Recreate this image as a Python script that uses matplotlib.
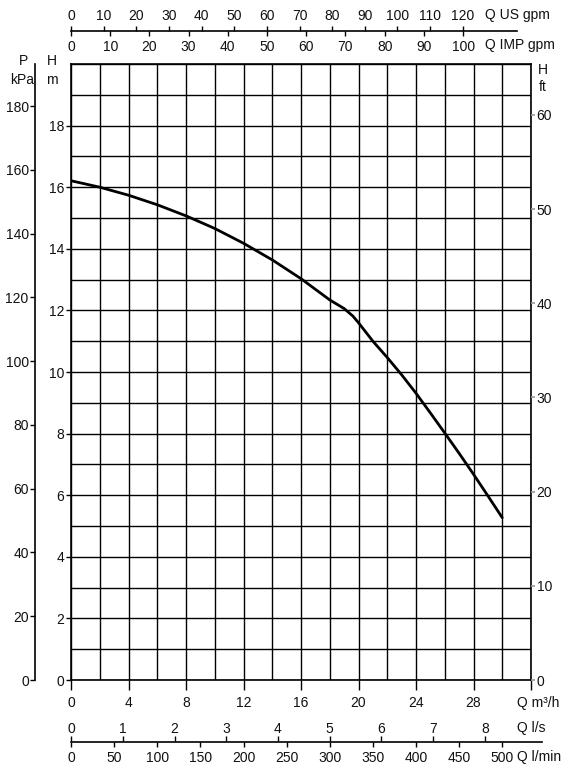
import matplotlib
matplotlib.use("Agg")
import matplotlib.pyplot as plt
from matplotlib import font_manager

_fam = ['Liberation Sans', 'DejaVu Sans']
try:
    font_manager.findfont(font_manager.FontProperties(family='Liberation Sans Narrow'),
                          fallback_to_default=False)
    _fam = ['Liberation Sans Narrow'] + _fam
    NARROW = True
except Exception:
    NARROW = False
plt.rcParams['font.family'] = _fam

# ---------------- data ----------------
q_m3h = [0, 2, 4, 6, 8, 10, 12, 14, 16, 18, 19, 19.6, 20, 21, 22, 23, 24, 25, 26, 27, 28, 29, 30]
h_m = [16.21, 16.0, 15.74, 15.43, 15.07, 14.66, 14.18, 13.64, 13.03, 12.34, 12.06, 11.82, 11.6,
       11.0, 10.47, 9.91, 9.31, 8.67, 8.02, 7.36, 6.68, 5.98, 5.27]

q_ticks = [0, 4, 8, 12, 16, 20, 24, 28]
h_ticks = [0, 2, 4, 6, 8, 10, 12, 14, 16, 18]
kpa_ticks = [0, 20, 40, 60, 80, 100, 120, 140, 160, 180]
ft_ticks = [0, 10, 20, 30, 40, 50, 60]
us_gpm_ticks = [0, 10, 20, 30, 40, 50, 60, 70, 80, 90, 100, 110, 120]
imp_gpm_ticks = [0, 10, 20, 30, 40, 50, 60, 70, 80, 90, 100]
ls_ticks = [0, 1, 2, 3, 4, 5, 6, 7, 8]
lmin_ticks = [0, 50, 100, 150, 200, 250, 300, 350, 400, 450, 500]

# unit conversions (per m3/h and per m)
US_PER_M3H = 4.4029
IMP_PER_M3H = 3.6661
LS_PER_M3H = 1 / 3.6
LMIN_PER_M3H = 1000 / 60
KPA_PER_M = 9.66
FT_PER_M = 3.27

# ---------------- layout ----------------
W, H = 566, 775
fig = plt.figure(figsize=(W / 100, H / 100), dpi=100)
TXT = '#111111'
FS = 10.5 if NARROW else 10
LFS = 10.5 if NARROW else 10

X0, X1 = 71, 531          # px of main axes
Y0, Y1 = 680, 64          # px (from top) of H=0 and H=20
QMAX, HMAX = 32, 20
PX_PER_Q = (X1 - X0) / QMAX


def fx(px):
    return px / W


def fy(py):
    return (H - py) / H


ax = fig.add_axes([fx(X0), fy(Y0), (X1 - X0) / W, (Y0 - Y1) / H])
ax.set_xlim(0, QMAX)
ax.set_ylim(0, HMAX)
ax.set_xticks(q_ticks + [32])
ax.set_xticklabels([str(t) for t in q_ticks] + [''])
ax.set_yticks(h_ticks)
ax.set_yticklabels([str(t) for t in h_ticks])
ax.set_xticks(range(0, 33, 2), minor=True)
ax.set_yticks(range(0, 21, 1), minor=True)
ax.grid(which='both', color='black', lw=1.0)
ax.tick_params(axis='x', which='major', direction='out', length=7.5, width=1.0,
               pad=4, labelsize=FS, labelcolor=TXT)
ax.tick_params(axis='y', which='major', direction='out', length=3.8, width=1.0,
               pad=1, labelsize=FS, labelcolor=TXT)
ax.tick_params(which='minor', length=0)
for s in ax.spines.values():
    s.set_linewidth(1.2)
ax.plot(q_m3h, h_m, color='black', lw=2.0, solid_capstyle='round',
        solid_joinstyle='round', zorder=5)

# right ft axis
axr = ax.twinx()
axr.set_ylim(0, HMAX * FT_PER_M)
axr.set_yticks(ft_ticks)
axr.set_yticklabels([str(t) for t in ft_ticks])
axr.tick_params(axis='y', direction='out', length=3, width=1.2, color='#999999',
                pad=1, labelsize=FS, labelcolor=TXT)
for k in ('right', 'left', 'top', 'bottom'):
    axr.spines[k].set_visible(False)

# left kPa axis
axk = fig.add_axes([fx(35), fy(Y0), 0.0005, (Y0 - Y1) / H])
axk.set_ylim(0, HMAX * KPA_PER_M)
axk.set_yticks(kpa_ticks)
axk.set_yticklabels([str(t) for t in kpa_ticks])
axk.set_xticks([])
axk.patch.set_visible(False)
for k in ('right', 'top', 'bottom'):
    axk.spines[k].set_visible(False)
axk.spines['left'].set_linewidth(1.2)
axk.tick_params(axis='y', direction='out', length=3.5, width=1.0, pad=1,
                labelsize=FS, labelcolor=TXT)


def helper_axis(py, width_px, per_m3h, ticks, side, pad, line_end_q=None):
    a = fig.add_axes([fx(X0), fy(py), width_px / W, 1e-5])
    qmax = width_px / PX_PER_Q
    a.set_xlim(0, qmax * per_m3h)
    a.set_yticks([])
    a.patch.set_visible(False)
    for s in a.spines.values():
        s.set_visible(False)
    if side == 'top':
        a.xaxis.set_ticks_position('top')
        a.xaxis.set_label_position('top')
    a.set_xticks(ticks)
    a.set_xticklabels([str(t) for t in ticks])
    a.tick_params(axis='x', direction='out', length=3.5, width=1.0, pad=pad,
                  labelsize=FS, labelcolor=TXT)
    if line_end_q is not None:
        a.spines['bottom'].set_visible(True)
        a.spines['bottom'].set_linewidth(1.2)
        a.spines['bottom'].set_bounds(0, line_end_q * per_m3h)
    return a


# top flow axes
helper_axis(31, 460, US_PER_M3H, us_gpm_ticks, 'top', 2.0)
helper_axis(31, 460, IMP_PER_M3H, imp_gpm_ticks, 'bottom', 3.0, line_end_q=31.05)
# bottom flow axes
helper_axis(741.5, 472, LS_PER_M3H, ls_ticks, 'top', 0.8)
helper_axis(741.5, 472, LMIN_PER_M3H, lmin_ticks, 'bottom', 3.0, line_end_q=32.75)


# unit labels
def label(px, py, s, ha='left'):
    fig.text(fx(px), fy(py), s, ha=ha, va='center', fontsize=LFS, color=TXT)


label(550, 15, 'Q US gpm', ha='right')
label(555, 45, 'Q IMP gpm', ha='right')
label(517, 703, 'Q m³/h')
label(517, 728, 'Q l/s')
label(517, 757, 'Q l/min')
label(23, 61, 'P', ha='center')
label(22, 80, 'kPa', ha='center')
label(52, 61, 'H', ha='center')
label(52, 80, 'm', ha='center')
label(543, 70, 'H', ha='center')
label(543, 87, 'ft', ha='center')

fig.savefig('out.png', dpi=100)
